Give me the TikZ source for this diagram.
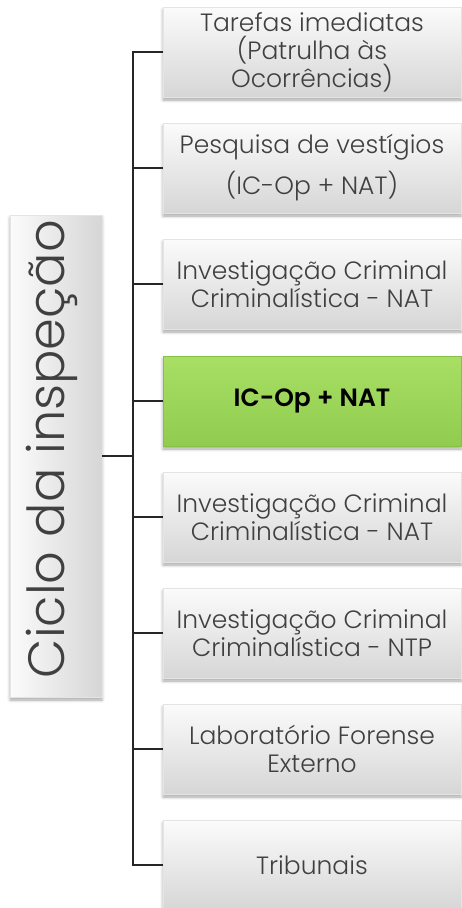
\documentclass[tikz,border=0pt]{standalone}
\usepackage{fontspec}
\setmainfont{Poppins}[UprightFont=* Light, BoldFont=* SemiBold]
\usetikzlibrary{shadows.blur}
\definecolor{txt}{HTML}{404040}
\definecolor{boxtop}{HTML}{FBFBFB}
\definecolor{boxbot}{HTML}{D6D6D6}
\definecolor{boxedge}{HTML}{E4E4E4}
\definecolor{greentop}{HTML}{A8DF64}
\definecolor{greenbot}{HTML}{90CC4F}
\definecolor{greenedge}{HTML}{86C046}
\definecolor{wire}{HTML}{262626}

\begin{document}
\begin{tikzpicture}[x=1pt,y=-1pt,
  softshadow/.style={blur shadow={shadow xshift=0pt, shadow yshift=-3pt,
      shadow blur radius=3pt, shadow opacity=35}},
  stepbox/.style={rectangle, draw=boxedge, line width=0.8pt,
      top color=boxtop, bottom color=boxbot,
      minimum width=298pt, minimum height=90pt, inner sep=0pt,
      align=center, text=txt, font=\fontsize{25}{28}\selectfont, softshadow},
  keybox/.style={stepbox, draw=greenedge, top color=greentop, bottom color=greenbot,
      text=black, font=\fontsize{25}{28}\selectfont\bfseries},
  cyclebox/.style={rectangle, draw=boxedge, line width=0.8pt,
      left color=boxtop, right color=boxbot,
      minimum width=92pt, minimum height=482pt, inner sep=0pt, softshadow},
  wire/.style={draw=wire, line width=1.6pt}]

\useasboundingbox (0,0) rectangle (462,908);

% left-hand cycle box with its rotated title
\node[cyclebox] (cycle) at (56,456) {};
\node[rotate=90, text=txt, font=\fontsize{51}{60}\selectfont, inner sep=0pt]
  (cycletext) at ([shift={(-4,-7)}]cycle.center) {Ciclo da inspeção};

% branch junction
\coordinate (hub) at (133,456);

% the eight stages
\node[stepbox] (b1) at (312,52)  {Tarefas imediatas\\(Patrulha às\\Ocorrências)};
\node[stepbox] (b2) at (312,168) {Pesquisa de vestígios\\[10pt](IC-Op + NAT)};
\node[stepbox] (b3) at (312,284) {Investigação Criminal\\Criminalística - NAT};
\node[keybox]  (b4) at (312,401) {IC-Op + NAT};
\node[stepbox] (b5) at (312,517) {Investigação Criminal\\Criminalística - NAT};
\node[stepbox] (b6) at (312,633) {Investigação Criminal\\Criminalística - NTP};
\node[stepbox] (b7) at (312,749) {Laboratório Forense\\Externo};
\node[stepbox] (b8) at (312,865) {Tribunais};

% connectors
\draw[wire] (cycle.east) -- (hub);
\draw[wire] (b1.west) -| (hub) |- (b8.west);
\foreach \b in {b2,b3,b4,b5,b6,b7}
  \draw[wire] (\b.west) -- (\b.west -| hub);
\end{tikzpicture}
\end{document}
